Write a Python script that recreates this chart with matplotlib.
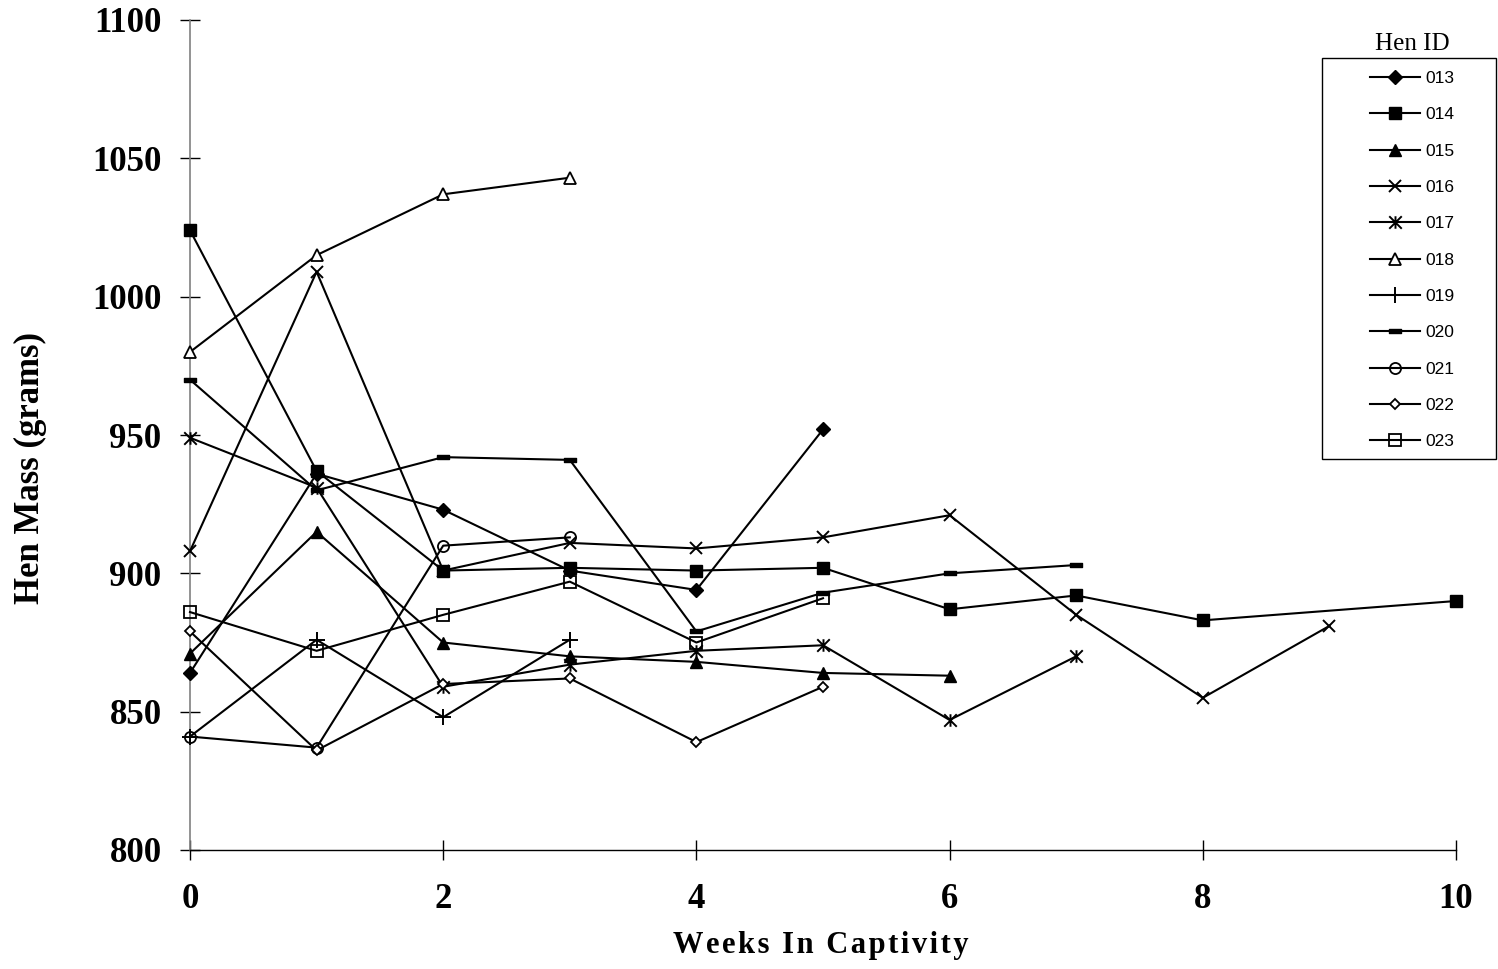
import matplotlib
matplotlib.use("Agg")
import matplotlib.pyplot as plt
from matplotlib.path import Path
from matplotlib.patches import Rectangle

# ==== data ====
hen_ids = ['013', '014', '015', '016', '017', '018', '019', '020', '021', '022', '023']

weeks_013 = [0, 1, 2, 3, 4, 5]
mass_013 = [864, 936, 923, 901, 894, 952]
weeks_014 = [0, 1, 2, 3, 4, 5, 6, 7, 8, 10]
mass_014 = [1024, 937, 901, 902, 901, 902, 887, 892, 883, 890]
weeks_015 = [0, 1, 2, 3, 4, 5, 6]
mass_015 = [871, 915, 875, 870, 868, 864, 863]
weeks_016 = [0, 1, 2, 3, 4, 5, 6, 7, 8, 9]
mass_016 = [908, 1009, 901, 911, 909, 913, 921, 885, 855, 881]
weeks_017 = [0, 1, 2, 3, 4, 5, 6, 7]
mass_017 = [949, 931, 859, 867, 872, 874, 847, 870]
weeks_018 = [0, 1, 2, 3]
mass_018 = [980, 1015, 1037, 1043]
weeks_019 = [0, 1, 2, 3]
mass_019 = [841, 876, 848, 876]
weeks_020 = [0, 1, 2, 3, 4, 5, 6, 7]
mass_020 = [970, 930, 942, 941, 879, 893, 900, 903]
weeks_021 = [0, 1, 2, 3]
mass_021 = [841, 837, 910, 913]
weeks_022 = [0, 1, 2, 3, 4, 5]
mass_022 = [879, 836, 860, 862, 839, 859]
weeks_023 = [0, 1, 2, 3, 4, 5]
mass_023 = [886, 872, 885, 897, 875, 891]

all_weeks = [weeks_013, weeks_014, weeks_015, weeks_016, weeks_017, weeks_018,
             weeks_019, weeks_020, weeks_021, weeks_022, weeks_023]
all_mass = [mass_013, mass_014, mass_015, mass_016, mass_017, mass_018,
            mass_019, mass_020, mass_021, mass_022, mass_023]

# ==== marker styles (Excel-like) ====
asterisk = Path([(0, -1), (0, 1), (-1, -1), (1, 1), (-1, 1), (1, -1)],
                [Path.MOVETO, Path.LINETO, Path.MOVETO, Path.LINETO, Path.MOVETO, Path.LINETO])
dash = Path([(-1, -0.35), (1, -0.35), (1, 0.35), (-1, 0.35), (-1, -0.35)],
            [Path.MOVETO, Path.LINETO, Path.LINETO, Path.LINETO, Path.CLOSEPOLY])

styles = [
    dict(marker='D', ms=7, mfc='black'),
    dict(marker='s', ms=8.5, mfc='black'),
    dict(marker='^', ms=9, mfc='black'),
    dict(marker='x', ms=9, mew=1.4),
    dict(marker=asterisk, ms=9, mfc='none', mew=1.4),
    dict(marker='^', ms=9, mfc='white', mew=1.3),
    dict(marker='+', ms=11, mew=1.4),
    dict(marker=dash, ms=8, mfc='black'),
    dict(marker='o', ms=8, mfc='none', mew=1.3),
    dict(marker='D', ms=5, mfc='white', mew=1.3),
    dict(marker='s', ms=8, mfc='none', mew=1.3),
]

serif = ['Liberation Serif', 'DejaVu Serif']

fig = plt.figure(figsize=(14.98, 9.69), dpi=100)
ax = fig.add_axes([190 / 1498, 1 - 850 / 969, (1456 - 190) / 1498, (850 - 20) / 969])

for hid, wk, m, st in zip(hen_ids, all_weeks, all_mass, styles):
    ax.plot(wk, m, color='black', linewidth=1.5, mec='black', label=hid,
            clip_on=False, zorder=3, **st)

ax.set_xlim(0, 10)
ax.set_ylim(800, 1100)
ax.set_xticks(range(0, 11, 2))
ax.set_yticks(range(800, 1101, 50))
for sp in ['top', 'right']:
    ax.spines[sp].set_visible(False)
ax.spines['left'].set_color('#808080')
ax.spines['left'].set_linewidth(1.2)
ax.spines['bottom'].set_linewidth(1.0)
ax.tick_params(axis='both', direction='inout', length=15, width=1.0, color='black')
ax.tick_params(axis='y', pad=13)
ax.tick_params(axis='x', pad=16)
for lab in ax.get_xticklabels() + ax.get_yticklabels():
    lab.set_fontfamily(serif)
    lab.set_fontweight('bold')
    lab.set_fontsize(25)

# axis titles
fig.text(821 / 1498, 1 - 945 / 969, '\u200a'.join('Weeks In Captivity'),
         family=serif, fontweight='bold', fontsize=22, ha='center', va='center')
fig.text(30 / 1498, 1 - 468 / 969, 'Hen Mass (grams)', family=serif,
         fontweight='bold', fontsize=25, rotation=90, ha='center', va='center')

# legend
fig.add_artist(Rectangle((1322 / 1498, 1 - 459 / 969), (1496 - 1322) / 1498, (459 - 58) / 969,
                         transform=fig.transFigure, fill=False, edgecolor='black', linewidth=1.0))
fig.text(1412 / 1498, 1 - 44 / 969, 'Hen ID', family=serif, fontsize=18,
         ha='center', va='center')
leg = fig.legend(loc='upper left', bbox_to_anchor=(1370 / 1498, 1 - 71 / 969),
                 frameon=False, handlelength=2.9, handletextpad=0.3,
                 labelspacing=1.22, borderpad=0, borderaxespad=0,
                 prop={'family': ['Liberation Sans', 'DejaVu Sans'], 'size': 12.5})

fig.savefig('out.png', dpi=100)
